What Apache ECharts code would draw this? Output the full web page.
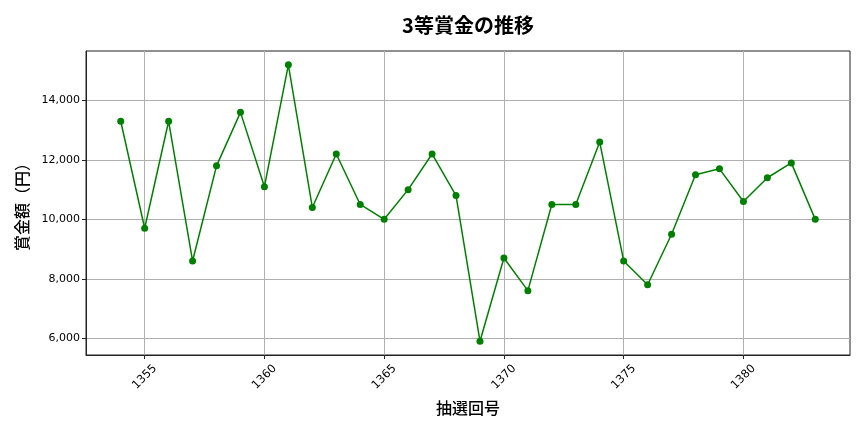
<!DOCTYPE html>
<html>
<head>
<meta charset="utf-8">
<script src="https://cdn.jsdelivr.net/npm/echarts@6/dist/echarts.min.js"></script>
<style>
html, body { margin: 0; padding: 0; background: #fff; }
#main { width: 864px; height: 432px; }
</style>
</head>
<body>
<div id="main"></div>
<script>
// 抽選回号
var rounds = [1354, 1355, 1356, 1357, 1358, 1359, 1360, 1361, 1362, 1363,
	1364, 1365, 1366, 1367, 1368, 1369, 1370, 1371, 1372, 1373,
	1374, 1375, 1376, 1377, 1378, 1379, 1380, 1381, 1382, 1383];
// 3等賞金（円）
var prizes = [13300, 9700, 13300, 8600, 11800, 13600, 11100, 15200, 10400, 12200,
	10500, 10000, 11000, 12200, 10800, 5900, 8700, 7600, 10500, 10500,
	12600, 8600, 7800, 9500, 11500, 11700, 10600, 11400, 11900, 10000];
var xTicks = [1355, 1360, 1365, 1370, 1375, 1380];
var yTicks = [6000, 8000, 10000, 12000, 14000];

var cjk = 'Noto Sans CJK JP';
var num = 'DejaVu Sans';
var points = rounds.map(function (r, i) { return [r, prizes[i]]; });

var myChart = echarts.init(document.getElementById('main'));
var option = {
	backgroundColor: '#fff',
	animation: false,
	title: {
		text: '3等賞金の推移',
		left: 463,
		top: 10,
		textAlign: 'center',
		textStyle: { fontFamily: cjk, fontSize: 20, fontWeight: 'bold', color: '#000' }
	},
	grid: {
		left: 86, right: 14, top: 51, bottom: 77,
		show: true, borderColor: '#222', borderWidth: 1
	},
	xAxis: {
		type: 'value',
		min: 1352.55,
		max: 1384.45,
		name: '抽選回号',
		nameLocation: 'middle',
		nameGap: 45,
		nameTextStyle: { fontFamily: cjk, fontSize: 16, fontWeight: 500, color: '#000' },
		axisLine: { show: true, lineStyle: { color: '#222', width: 1 } },
		axisTick: { show: true, length: 4, customValues: xTicks, lineStyle: { color: '#222' } },
		axisLabel: {
			customValues: xTicks,
			rotate: 45,
			align: 'center',
			verticalAlign: 'middle',
			fontFamily: num,
			fontSize: 11.5,
			color: '#000',
			margin: 22,
			formatter: function (v) { return String(v); }
		},
		splitLine: { show: true, lineStyle: { color: '#b0b0b0', width: 1 } }
	},
	yAxis: {
		type: 'value',
		min: 5435,
		max: 15665,
		name: '賞金額（円）',
		nameLocation: 'middle',
		nameGap: 56,
		nameTextStyle: { fontFamily: cjk, fontSize: 16, fontWeight: 500, color: '#000' },
		axisLine: { show: true, lineStyle: { color: '#222', width: 1 } },
		axisTick: { show: true, length: 4, customValues: yTicks, lineStyle: { color: '#222' } },
		axisLabel: {
			customValues: yTicks,
			fontFamily: num,
			fontSize: 11,
			color: '#000',
			margin: 6,
			formatter: function (v) { return v.toLocaleString('en-US'); }
		},
		splitLine: { show: true, lineStyle: { color: '#b0b0b0', width: 1 } }
	},
	series: [{
		type: 'line',
		data: points,
		symbol: 'circle',
		symbolSize: 7,
		lineStyle: { color: '#008000', width: 1.5 },
		itemStyle: { color: '#008000' }
	}]
};
myChart.setOption(option);
</script>
</body>
</html>
